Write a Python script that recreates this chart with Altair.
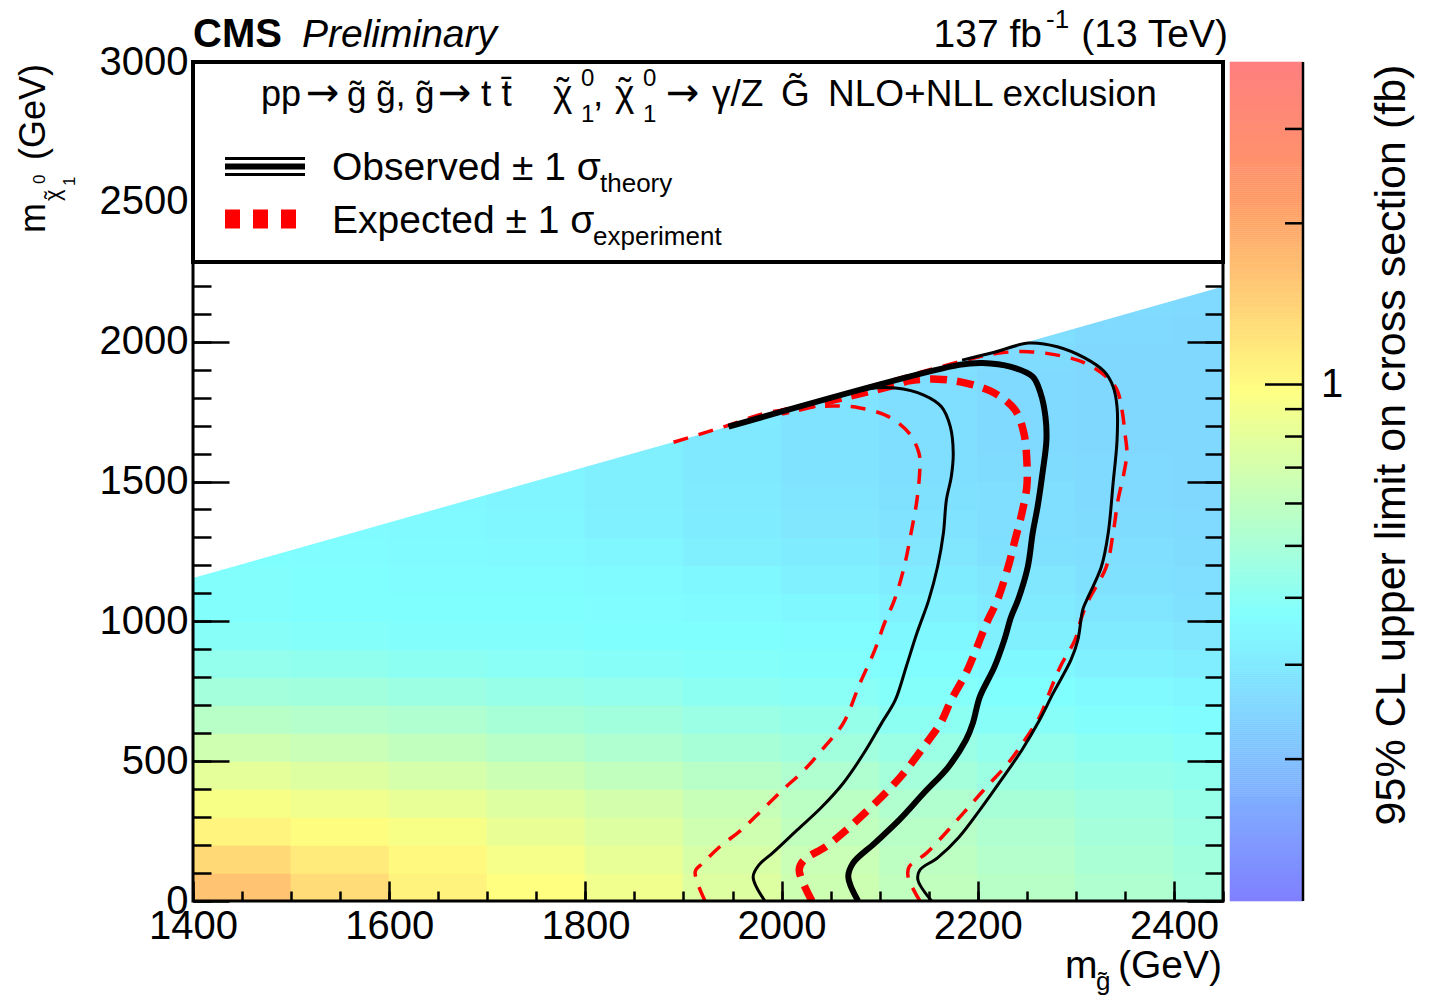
import altair as alt
import pandas as pd

FONT = "Liberation Sans"
ARROW_FONT = "DejaVu Sans"

# ---------------- data ----------------
mg_edges = [1400, 1500, 1600, 1700, 1800, 1900, 2000, 2100, 2200, 2300, 2400, 2450]
mchi_edges = [0, 100, 200, 300, 400, 500, 600, 700, 800, 900, 1000, 1100, 1200,
              1300, 1400, 1500, 1600, 1700, 1800, 1900, 2000, 2100, 2200]
# 95% CL upper limit (fb); rows bottom->top, right-aligned to the gluino-mass bins
limit_rows = [
    [1.60, 1.30, 1.09, 0.98, 0.88, 0.76, 0.67, 0.61, 0.57, 0.53, 0.485],
    [1.33, 1.15, 1.02, 0.91, 0.82, 0.72, 0.65, 0.59, 0.55, 0.51, 0.477],
    [1.07, 1.00, 0.93, 0.83, 0.76, 0.68, 0.61, 0.57, 0.53, 0.49, 0.46],
    [0.93, 0.88, 0.82, 0.76, 0.70, 0.64, 0.58, 0.54, 0.50, 0.47, 0.443],
    [0.80, 0.76, 0.71, 0.66, 0.61, 0.57, 0.53, 0.49, 0.46, 0.436, 0.42],
    [0.68, 0.65, 0.61, 0.57, 0.53, 0.50, 0.477, 0.45, 0.428, 0.405, 0.39],
    [0.57, 0.55, 0.53, 0.50, 0.477, 0.45, 0.436, 0.41, 0.39, 0.377, 0.364],
    [0.485, 0.477, 0.46, 0.443, 0.428, 0.41, 0.40, 0.384, 0.37, 0.351, 0.338],
    [0.428, 0.42, 0.41, 0.40, 0.39, 0.384, 0.377, 0.364, 0.345, 0.326, 0.315],
    [0.39, 0.384, 0.377, 0.377, 0.37, 0.37, 0.364, 0.345, 0.32, 0.304, 0.293],
    [0.377, 0.37, 0.37, 0.37, 0.364, 0.357, 0.345, 0.326, 0.304, 0.288, 0.277],
    [0.377, 0.37, 0.364, 0.364, 0.357, 0.345, 0.326, 0.309, 0.293, 0.277, 0.268],
    [0.37, 0.364, 0.357, 0.351, 0.338, 0.32, 0.309, 0.293, 0.277, 0.268, 0.263],
    [0.357, 0.351, 0.338, 0.326, 0.309, 0.293, 0.283, 0.268, 0.263, 0.258],
    [0.345, 0.332, 0.32, 0.304, 0.288, 0.277, 0.268, 0.258, 0.254],
    [0.332, 0.32, 0.298, 0.283, 0.272, 0.263, 0.258, 0.254],
    [0.32, 0.298, 0.283, 0.268, 0.258, 0.254, 0.254],
    [0.304, 0.283, 0.268, 0.258, 0.254, 0.254],
    [0.288, 0.268, 0.258, 0.254, 0.254],
    [0.277, 0.263, 0.254, 0.254],
    [0.268, 0.258, 0.254],
    [0.263, 0.258],
]
kin_edge_mg = [1400, 2450]
kin_edge_mchi = [1155, 2197]

obs_mg = [2078, 2068, 2073, 2095, 2120, 2145, 2170, 2188, 2195, 2202, 2217, 2227, 2234, 2241,
          2251, 2256, 2261, 2266, 2270, 2269, 2264, 2256, 2234, 2205, 2181, 1946]
obs_mchi = [0, 86, 136, 207, 290, 386, 479, 576, 636, 729, 837, 933, 1016, 1076,
            1195, 1316, 1410, 1530, 1648, 1732, 1816, 1875, 1910, 1924, 1917, 1696]
obs_m1_mg = [1983, 1971, 1977, 1991, 2016, 2041, 2063, 2084, 2102, 2116, 2127, 2138, 2150,
             2159, 2165, 2168, 2173, 2175, 2172, 2163, 2145, 2116, 2088, 1946]
obs_m1_mchi = [0, 86, 129, 172, 254, 336, 422, 529, 636, 719, 837, 958, 1076,
               1195, 1316, 1434, 1517, 1602, 1696, 1767, 1809, 1834, 1831, 1696]
obs_p1_mg = [2153, 2139, 2141, 2159, 2181, 2202, 2224, 2245, 2263, 2277, 2295, 2302, 2307, 2311,
             2326, 2333, 2338, 2342, 2342, 2338, 2329, 2309, 2281, 2252, 2217, 2184]
obs_p1_mchi = [0, 75, 111, 154, 229, 325, 433, 540, 647, 744, 862, 933, 1041, 1076,
               1195, 1316, 1495, 1648, 1767, 1839, 1893, 1942, 1982, 1995, 1962, 1934]
exp_mg = [2031, 2018, 2023, 2045, 2066, 2088, 2109, 2127, 2145, 2162, 2173, 2188, 2198, 2209,
          2220, 2231, 2238, 2245, 2250, 2250, 2247, 2238, 2216, 2188, 2159, 2130, 2116, 2000]
exp_mchi = [0, 111, 147, 194, 254, 325, 397, 468, 552, 636, 719, 815, 897, 994,
            1076, 1195, 1291, 1387, 1481, 1577, 1673, 1756, 1818, 1852, 1866, 1860, 1845, 1748]
exp_m1_mg = [1922, 1912, 1920, 1937, 1959, 1980, 2001, 2023, 2044, 2063, 2080, 2095, 2105, 2115,
             2125, 2132, 2138, 2141, 2140, 2130, 2109, 2080, 2052, 1991, 1937, 1882]
exp_m1_mchi = [0, 105, 136, 194, 254, 325, 397, 468, 552, 636, 779, 897, 994, 1076,
               1195, 1316, 1434, 1553, 1602, 1673, 1732, 1763, 1770, 1750, 1691, 1632]
exp_p1_mg = [2141, 2129, 2130, 2148, 2170, 2188, 2209, 2231, 2248, 2263, 2274, 2284, 2299, 2306,
             2313, 2331, 2338, 2343, 2349, 2352, 2350, 2347, 2342, 2331, 2309, 2281, 2252, 2224,
             2188, 2060]
exp_p1_mchi = [0, 86, 122, 172, 254, 325, 408, 493, 576, 658, 754, 837, 933, 1016,
               1076, 1195, 1316, 1434, 1530, 1602, 1673, 1756, 1827, 1875, 1924, 1952, 1964, 1960,
               1934, 1810]

cbar_minor = [0.2, 0.3, 0.4, 0.5, 0.6, 0.7, 0.8, 0.9, 2, 3]
cbar_major = [1]
cbar_range = [0.1087, 4.0]
palette_stops = [0.1087, 0.370, 0.98, 2.245, 4.0]
palette_colors = ["#8080ff", "#80ffff", "#ffff80", "#ff9966", "#ff8080"]

x_major_ticks = [1400, 1600, 1800, 2000, 2200, 2400]
x_minor_ticks = list(range(1400, 2451, 50))
y_label_ticks = [0, 500, 1000, 1500, 2000, 2500, 3000]
y_major_ticks = [0, 500, 1000, 1500, 2000]
y_minor_ticks = list(range(0, 2201, 100))

# ---------------- build ----------------
W, H = 1030, 839
OX, OY = 193, 62   # plot origin in page pixels

xs = alt.Scale(domain=[1400, 2450], nice=False, zero=False)
ys = alt.Scale(domain=[0, 3000], nice=False, zero=False)
cscale = alt.Scale(type="log", domain=palette_stops, range=palette_colors,
                   interpolate="rgb", clamp=True)

cells = []
ncol = len(mg_edges) - 1
for r, vals in enumerate(limit_rows):
    start = ncol - len(vals)
    for k, v in enumerate(vals):
        c = start + k
        cells.append(dict(x0=mg_edges[c], x1=mg_edges[c + 1],
                          y0=mchi_edges[r], y1=mchi_edges[r + 1], limit=v))
heat_df = pd.DataFrame(cells)

heatmap = alt.Chart(heat_df).mark_rect(strokeWidth=1.2, clip=True).encode(
    x=alt.X("x0:Q", scale=xs, axis=None),
    x2=alt.X2("x1"),
    y=alt.Y("y0:Q", scale=ys, axis=None),
    y2=alt.Y2("y1"),
    color=alt.Color("limit:Q", scale=cscale, legend=None),
    stroke=alt.Stroke("limit:Q", scale=cscale, legend=None),
)

mask = alt.Chart(pd.DataFrame({"mg": kin_edge_mg, "mchi": kin_edge_mchi})).mark_area(
    color="white", clip=True).encode(
    x=alt.X("mg:Q", scale=xs, axis=None),
    y=alt.Y("mchi:Q", scale=ys, axis=None),
    y2=alt.datum(3000),
)


def contour(mg, mchi, color, width, dash=None):
    df = pd.DataFrame({"mg": mg, "mchi": mchi, "i": list(range(len(mg)))})
    kw = dict(color=color, strokeWidth=width, interpolate="catmull-rom", clip=True)
    if dash:
        kw["strokeDash"] = dash
    return alt.Chart(df).mark_line(**kw).encode(
        x=alt.X("mg:Q", scale=xs, axis=None),
        y=alt.Y("mchi:Q", scale=ys, axis=None),
        order="i:Q",
    )


lines = [
    contour(exp_m1_mg, exp_m1_mchi, "#ff0000", 3.5, [15, 11]),
    contour(exp_p1_mg, exp_p1_mchi, "#ff0000", 3.5, [15, 11]),
    contour(exp_mg, exp_mchi, "#ff0000", 7.5, [17, 10]),
    contour(obs_m1_mg, obs_m1_mchi, "black", 3),
    contour(obs_p1_mg, obs_p1_mchi, "black", 3),
    contour(obs_mg, obs_mchi, "black", 6),
]

one = pd.DataFrame({"a": [0]})

frame = alt.Chart(one).mark_rect(filled=False, stroke="black", strokeWidth=3).encode(
    x=alt.value(0), x2=alt.value(W), y=alt.value(0), y2=alt.value(H))
box = alt.Chart(one).mark_rect(fill="white", stroke="black", strokeWidth=4).encode(
    x=alt.value(0), x2=alt.value(W), y=alt.value(0), y2=alt.value(200))


def rule(x1, x2, y, color, width, dash=None):
    kw = dict(color=color, strokeWidth=width)
    if dash:
        kw["strokeDash"] = dash
    return alt.Chart(one).mark_rule(**kw).encode(
        x=alt.value(x1), x2=alt.value(x2), y=alt.value(y))


legend_syms = [
    rule(32, 112, 96.5, "black", 3),
    rule(32, 112, 104.5, "black", 6),
    rule(32, 112, 112.5, "black", 3),
    rule(32, 103, 157, "#ff0000", 19, [15, 13]),
]


def txt(s, x, y, size, align="left", weight="normal", style="normal", angle=0,
        baseline="alphabetic", font=FONT):
    kw = dict(font=font, fontSize=size, align=align, fontWeight=weight,
              fontStyle=style, baseline=baseline, color="black")
    if angle:
        kw["angle"] = angle
    return alt.Chart(one).mark_text(**kw).encode(
        x=alt.value(x - OX), y=alt.value(y - OY), text=alt.value(s))


HB = 106   # header baseline
HS = 37    # header size
texts = [
    txt("CMS", 193, 47, 40, weight="bold"),
    txt("Preliminary", 302, 47, 39, style="italic"),
    txt("137 fb", 1042, 47, 39, align="right"),
    txt("-1", 1046, 28, 26),
    txt("(13 TeV)", 1228, 47, 39, align="right"),
    # legend header
    txt("pp", 261, HB, 36),
    txt("\u2192", 306, HB, 40, font=ARROW_FONT),
    txt("g\u0303 g\u0303, g\u0303", 347, HB, 35),
    txt("\u2192", 438, HB, 40, font=ARROW_FONT),
    txt("t t\u0304", 481, HB, HS),
    txt("\u03c7", 553, HB, HS),
    txt("\u02dc", 563, HB - 2, HS, align="center"),
    txt("0", 581, 86, 24),
    txt("1", 581, 122, 24),
    txt(",", 593, HB, HS),
    txt("\u03c7", 615, HB, HS),
    txt("\u02dc", 625, HB - 2, HS, align="center"),
    txt("0", 643, 86, 24),
    txt("1", 643, 122, 24),
    txt("\u2192", 666, HB, 40, font=ARROW_FONT),
    txt("\u03b3/Z", 712, HB, HS),
    txt("G\u0303", 781, HB, HS),
    txt("NLO+NLL exclusion", 828, HB, HS),
    # legend entries
    txt("Observed \u00b1 1 \u03c3", 332, 180, 39),
    txt("theory", 600, 192, 26),
    txt("Expected \u00b1 1 \u03c3", 332, 233, 39),
    txt("experiment", 593, 245, 26),
    # x title
    txt("m", 1065, 978, 39),
    txt("g\u0303", 1096, 990, 26),
    txt("(GeV)", 1222, 978, 39, align="right"),
    # y title (rotated)
    txt("m", 45, 233, 36, angle=270),
    txt("\u03c7", 60, 201, 22, angle=270),
    txt("\u02dc", 60, 195, 22, angle=270, align="center"),
    txt("0", 45, 184, 17, angle=270),
    txt("1", 75, 186, 17, angle=270),
    txt("(GeV)", 45, 160, 36, angle=270),
    # colour bar title
    txt("95% CL upper limit on cross section (fb)", 1405, 445, 43, align="center", angle=270),
]

dummy = pd.DataFrame({"mg": [1400], "mchi": [0]})


def ax(orient, values, size, labels=False, tick_opacity=1):
    kw = dict(orient=orient, values=values, tickSize=size, offset=-size, domain=False,
              grid=False, title=None, zindex=1, tickColor="black", tickWidth=2.5,
              tickOpacity=tick_opacity, labels=labels)
    if labels:
        kw.update(labelFont=FONT, labelFontSize=40, labelColor="black", labelPadding=5,
                  labelFlush=False, labelOverlap=False, format="d")
    return alt.Axis(**kw)


def carrier(xaxis, yaxis):
    return alt.Chart(dummy).mark_point(opacity=0).encode(
        x=alt.X("mg:Q", scale=xs, axis=xaxis),
        y=alt.Y("mchi:Q", scale=ys, axis=yaxis),
    )


carriers = [
    carrier(ax("bottom", x_major_ticks, 20, labels=True), ax("left", y_label_ticks, 36, labels=True, tick_opacity=0)),
    carrier(ax("bottom", x_minor_ticks, 10), ax("left", y_major_ticks, 36)),
    carrier(None, ax("left", y_minor_ticks, 18)),
    carrier(None, ax("right", y_major_ticks, 36)),
    carrier(None, ax("right", y_minor_ticks, 18)),
]

main = alt.layer(heatmap, mask, *lines, frame, box, *legend_syms, *texts, *carriers).resolve_axis(
    x="independent", y="independent")

# colour bar: thin slices on its own log axis, coloured through the same colour scale
cbs = alt.Scale(type="log", domain=cbar_range, nice=False)
n_slices = 420
lo, hi = cbar_range
bounds = [lo * (hi / lo) ** (i / n_slices) for i in range(n_slices + 1)]
cb_df = pd.DataFrame({
    "v0": bounds[:-1], "v1": bounds[1:],
    "vm": [(a * b) ** 0.5 for a, b in zip(bounds[:-1], bounds[1:])],
})
cb_rects = alt.Chart(cb_df).mark_rect(strokeWidth=0.6).encode(
    y=alt.Y("v0:Q", scale=cbs, axis=None), y2=alt.Y2("v1"),
    x=alt.value(1037), x2=alt.value(1110),
    color=alt.Color("vm:Q", scale=cscale, legend=None),
    stroke=alt.Stroke("vm:Q", scale=cscale, legend=None),
)
cb_line = alt.Chart(pd.DataFrame({"lo": [lo], "hi": [hi]})).mark_rule(
    color="black", strokeWidth=2.5).encode(
    y=alt.Y("hi:Q", scale=cbs, axis=None), y2=alt.Y2("lo"), x=alt.value(1110))
cb_minor_layer = alt.Chart(pd.DataFrame({"v": cbar_minor})).mark_rule(
    color="black", strokeWidth=2.5).encode(
    y=alt.Y("v:Q", scale=cbs, axis=None), x=alt.value(1092), x2=alt.value(1110))
cb_major_layer = alt.Chart(pd.DataFrame({"v": cbar_major})).mark_rule(
    color="black", strokeWidth=2.5).encode(
    y=alt.Y("v:Q", scale=cbs, axis=None), x=alt.value(1072), x2=alt.value(1110))
cb_label = alt.Chart(pd.DataFrame({"v": cbar_major})).mark_text(
    font=FONT, fontSize=40, align="left", baseline="middle", color="black").encode(
    y=alt.Y("v:Q", scale=cbs, axis=None), x=alt.value(1128), text=alt.Text("v:Q", format="d"))
cb = alt.layer(cb_rects, cb_line, cb_minor_layer, cb_major_layer, cb_label)

chart = alt.layer(main, cb).resolve_scale(y="independent").properties(
    width=W, height=H,
    autosize=alt.AutoSizeParams(type="none"),
    padding={"left": OX, "top": OY, "right": 1429 - OX - W, "bottom": 1000 - OY - H},
).configure_view(stroke=None)

chart.save("out.html", embed_options={"renderer": "svg", "actions": False})
